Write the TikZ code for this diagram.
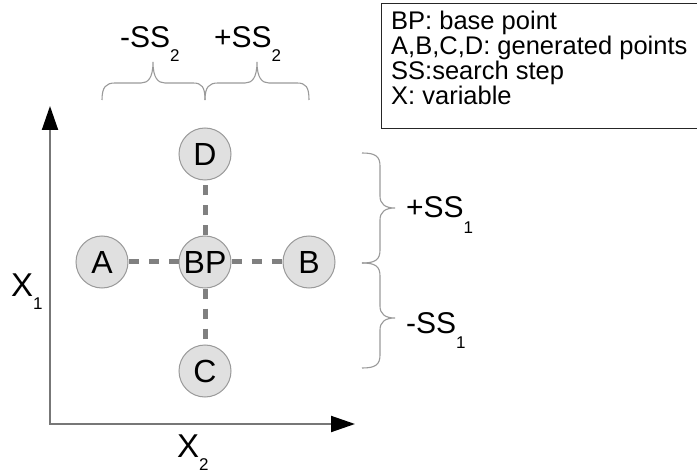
\documentclass[tikz,border=0pt]{standalone}
\usepackage{fontspec}
\setmainfont{Liberation Sans}
\usetikzlibrary{arrows.meta}
\definecolor{axisgray}{HTML}{777777}
\definecolor{dashgray}{HTML}{808080}
\definecolor{circfill}{HTML}{E0E0E0}
\definecolor{circline}{HTML}{9A9A9A}
\definecolor{bracegray}{HTML}{9A9A9A}
\newcommand\lowsub[3]{\raisebox{-#1pt}{\fontsize{#2}{#2}\selectfont #3}}
\tikzset{
  pointnode/.style={circle, draw=circline, line width=1pt, fill=circfill, minimum size=52pt, inner sep=0pt, font=\fontsize{32}{36}\selectfont},
  searchline/.style={draw=dashgray, line width=5pt, dash pattern=on 10pt off 10pt},
  axisline/.style={draw=axisgray, line width=2pt, {Triangle[length=24pt,width=16pt,color=black]}-{Triangle[length=24pt,width=16pt,color=black]}},
  bracestyle/.style={draw=bracegray, line width=1.1pt},
  steplabel/.style={anchor=base west, inner sep=0pt, font=\fontsize{30}{34}\selectfont},
  axislabel/.style={anchor=base west, inner sep=0pt, font=\fontsize{33}{38}\selectfont},
  legendbox/.style={draw=black!85, line width=1.2pt, anchor=north west, minimum width=330pt, minimum height=125pt, inner sep=0pt},
  legendtext/.style={anchor=base west, inner sep=0pt, font=\fontsize{25.5}{26}\selectfont}
}
\begin{document}
\begin{tikzpicture}[x=1pt,y=-1pt]
\clip (0,0) rectangle (697,476);
\fill[white] (0,0) rectangle (697,476);

% legend
\node[legendbox] (legend) at (381,3) {};
\node[legendtext] (l1) at (391,30) {BP: base point};
\node[legendtext] (l2) at (391,55) {A,B,C,D: generated points};
\node[legendtext] (l3) at (391,80) {SS:search step};
\node[legendtext] (l4) at (391,105) {X: variable};

% axes
\coordinate (O) at (50,424);
\coordinate (ytip) at (50,106);
\coordinate (xtip) at (355,424);
\draw[axisline] (ytip) -- (O) -- (xtip);
\node[axislabel] (x1) at (11,297) {X\lowsub{13}{17}{1}};
\node[axislabel] (x2) at (177,457) {X\lowsub{13}{17}{2}};

% points
\node[pointnode] (BP) at (205,262) {BP};
\node[pointnode] (A) at (102,262) {A};
\node[pointnode] (B) at (309,262) {B};
\node[pointnode] (D) at (205,154) {D};
\node[pointnode] (C) at (205,371) {C};
\draw[searchline] (BP) -- (A);
\draw[searchline] (BP) -- (B);
\draw[searchline] (BP) -- (D);
\draw[searchline] (BP) -- (C);

% top braces
\draw[bracestyle] (102,100) .. controls (102,87) and (106,83) .. (115,83) -- (141,83) .. controls (148,83) and (153,78) .. (153,62) .. controls (153,78) and (158,83) .. (165,83) -- (193,83) .. controls (202,83) and (205,87) .. (205,100);
\draw[bracestyle] (205,100) .. controls (205,87) and (209,83) .. (218,83) -- (245,83) .. controls (252,83) and (257,78) .. (257,62) .. controls (257,78) and (262,83) .. (269,83) -- (297,83) .. controls (306,83) and (309,87) .. (309,100);
\node[steplabel] (m2) at (120,48) {-SS\lowsub{14}{17}{2}};
\node[steplabel] (p2) at (214,48) {+SS\lowsub{14}{17}{2}};

% right braces
\draw[bracestyle] (362,153) .. controls (375,153) and (380,156) .. (380,166) -- (380,196) .. controls (380,204) and (385,208) .. (395,208) .. controls (385,208) and (380,212) .. (380,220) -- (380,250) .. controls (380,260) and (375,263) .. (362,263);
\draw[bracestyle] (362,263) .. controls (375,263) and (380,266) .. (380,276) -- (380,306) .. controls (380,314) and (385,318) .. (395,318) .. controls (385,318) and (380,322) .. (380,330) -- (380,355) .. controls (380,365) and (375,368) .. (362,368);
\node[steplabel] (p1) at (406,218) {+SS\lowsub{16}{17}{1}};
\node[steplabel] (m1) at (406,333) {-SS\lowsub{16}{17}{1}};
\end{tikzpicture}
\end{document}
